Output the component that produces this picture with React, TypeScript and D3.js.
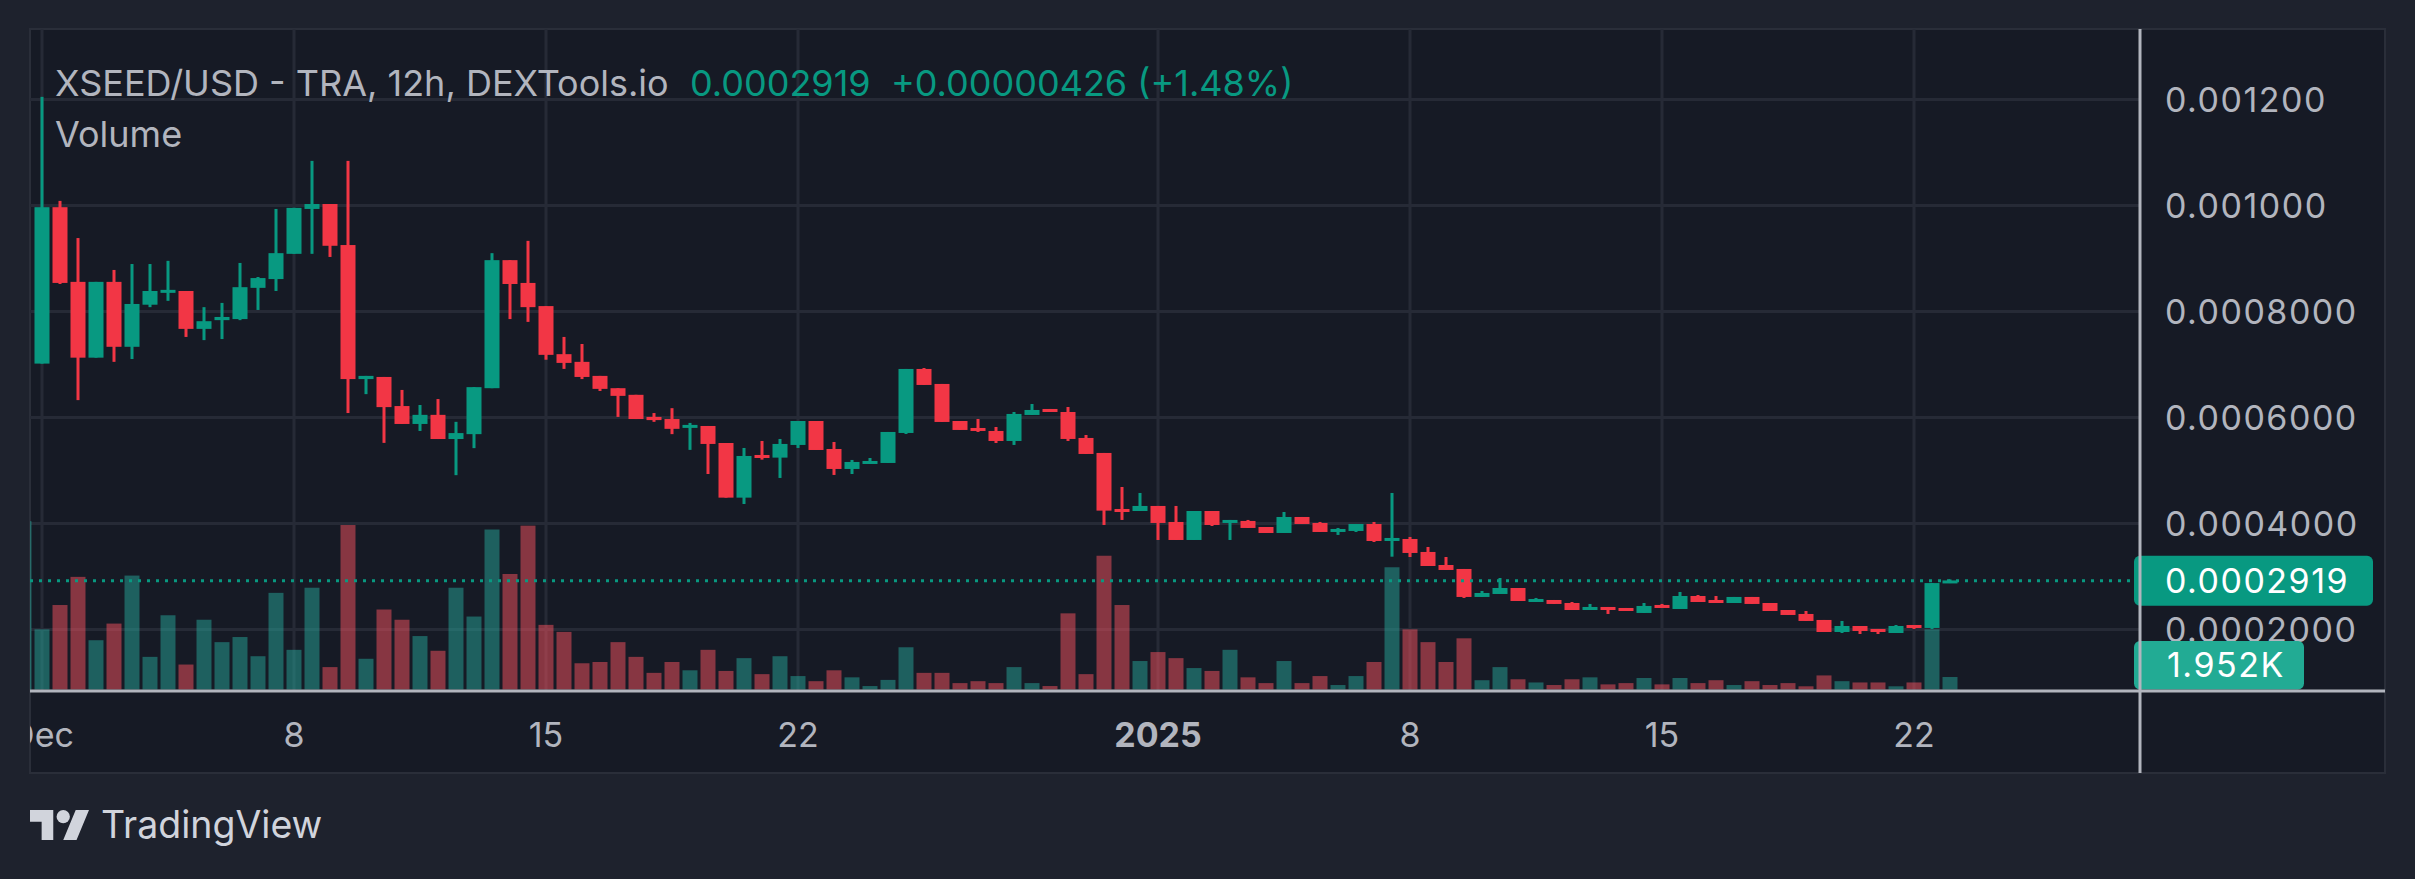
import React from 'react';
import * as d3 from 'd3';

const W = 2415;
const H = 879;

// Prices are in units of 1e-6 USD; volumes in thousands.
const PRICE_UNIT = 1e-6;
const firstCandleIndex = -1; // 12h candles counted from Dec 1 2024 00:00 UTC
const opens: (number | null)[] = [null,
  701.7, 996.8, 855.9, 712.9, 855.9, 733.4, 812.8, 835.4, 838.7, 767.2,
  783.7, 785.7, 844.6, 861.2, 908.8, 993.5, 1002.8, 925.4, 672.5, 676.5,
  621.6, 587.8, 605.0, 559.4, 568.6, 655.3, 896.9, 853.9, 810.2, 719.5,
  705.0, 678.5, 655.3, 642.8, 601.1, 597.1, 580.6, 584.0, 551.9, 448.8,
  529.3, 524.3, 548.2, 593.4, 540.6, 502.9, 512.3, 514.2, 570.8, 691.6,
  663.3, 593.4, 580.2, 574.6, 555.7, 604.8, 616.1, 610.4, 561.4, 533.1,
  427.4, 423.6, 433.1, 402.9, 368.9, 423.6, 401.0, 404.8, 393.4, 382.1,
  412.3, 401.0, 384.0, 385.9, 399.1, 367.0, 370.8, 346.3, 321.7, 314.2,
  261.4, 267.0, 278.3, 251.9, 255.7, 250.0, 236.8, 242.5, 240.6, 231.2,
  246.3, 238.7, 263.2, 255.7, 250.0, 261.4, 250.0, 236.8, 229.3, 218.0,
  195.3, 206.6, 201.0, 193.4, 208.5, 202.9, 287.6];
const highs: (number | null)[] = [null,
  1205.0, 1008.7, 938.6, 855.9, 878.4, 889.6, 889.6, 895.6, 838.7, 808.2,
  816.2, 891.6, 865.1, 993.5, 995.5, 1084.2, 1002.8, 1084.2, 678.5, 676.5,
  652.0, 623.6, 634.8, 591.8, 657.3, 910.1, 896.9, 933.3, 810.2, 752.0,
  738.7, 678.5, 655.3, 642.8, 608.4, 617.6, 589.8, 584.0, 551.9, 542.5,
  555.7, 559.5, 593.4, 593.4, 553.8, 519.9, 523.6, 572.7, 691.6, 693.4,
  663.3, 593.4, 597.2, 582.1, 610.4, 625.5, 616.1, 619.8, 567.0, 533.1,
  468.9, 457.6, 433.1, 433.1, 423.6, 423.6, 406.7, 406.7, 393.4, 421.7,
  412.3, 402.9, 391.6, 399.1, 402.9, 457.6, 374.6, 355.7, 336.8, 314.2,
  272.7, 297.2, 278.3, 259.5, 255.7, 251.9, 248.2, 242.5, 240.6, 250.0,
  248.2, 270.8, 265.1, 263.2, 261.4, 261.4, 250.0, 236.8, 234.9, 218.0,
  216.1, 206.6, 201.0, 208.5, 208.5, 287.8, 294.5];
const lows: (number | null)[] = [null,
  701.7, 851.9, 632.8, 712.9, 705.0, 710.3, 808.2, 820.1, 752.0, 746.0,
  748.0, 783.7, 802.9, 838.7, 908.8, 908.8, 902.9, 608.4, 644.1, 552.1,
  587.8, 574.6, 559.4, 491.2, 542.2, 655.3, 785.7, 780.4, 709.0, 691.7,
  672.5, 650.0, 601.1, 597.1, 591.8, 568.6, 538.9, 493.4, 448.8, 436.8,
  520.5, 485.9, 542.5, 538.7, 491.6, 493.4, 512.3, 514.2, 568.9, 661.4,
  591.6, 576.5, 572.7, 551.9, 548.2, 604.8, 610.4, 555.7, 531.2, 397.2,
  406.7, 423.6, 368.9, 368.9, 368.9, 395.3, 368.9, 391.6, 382.1, 382.1,
  399.1, 384.0, 378.4, 384.0, 365.1, 337.4, 336.8, 319.8, 312.3, 259.5,
  261.4, 267.0, 253.8, 251.9, 248.2, 236.8, 236.8, 229.3, 234.9, 231.2,
  240.6, 238.7, 251.9, 250.0, 250.0, 248.2, 234.9, 227.4, 216.1, 195.3,
  193.4, 191.5, 191.5, 193.4, 201.0, 201.0, 287.6];
const closes: (number | null)[] = [null,
  996.8, 853.9, 712.9, 855.9, 733.4, 814.2, 838.7, 840.6, 767.2, 781.7,
  789.7, 845.9, 863.1, 910.1, 995.5, 1002.8, 924.0, 672.5, 678.5, 619.6,
  587.8, 605.0, 559.4, 570.6, 657.3, 896.9, 851.9, 808.2, 718.2, 703.0,
  676.5, 654.0, 640.8, 597.1, 595.1, 578.6, 585.8, 550.1, 448.8, 527.4,
  523.6, 550.1, 593.4, 538.7, 502.9, 516.1, 518.0, 572.7, 691.6, 661.4,
  591.6, 576.5, 574.6, 555.7, 606.7, 614.2, 610.4, 559.5, 531.2, 424.3,
  421.7, 433.1, 401.0, 368.9, 423.6, 397.2, 406.7, 391.6, 382.1, 412.3,
  399.1, 384.0, 389.7, 399.1, 367.0, 372.7, 344.4, 319.8, 312.3, 261.4,
  268.9, 278.3, 253.8, 257.6, 248.2, 236.8, 242.5, 236.8, 234.9, 244.4,
  240.6, 263.2, 251.9, 250.0, 261.4, 248.2, 234.9, 227.4, 216.1, 195.3,
  206.6, 197.2, 195.3, 206.6, 202.9, 287.6, 291.9];
const volumesK: number[] = [26.3,
  9.4, 13.2, 17.6, 7.7, 10.3, 17.8, 5.1, 11.6, 3.9, 10.9,
  7.4, 8.2, 5.2, 15.1, 6.2, 15.9, 3.5, 25.7, 4.8, 12.5,
  10.9, 8.35, 6.05, 15.9, 11.4, 25.0, 18.05, 25.6, 10.1, 9.0,
  4.1, 4.3, 7.4, 5.1, 2.6, 4.3, 3.0, 6.2, 2.9, 4.9,
  2.4, 5.2, 2.1, 1.3, 3.0, 1.9, 0.54, 1.5, 6.6, 2.6,
  2.6, 1.0, 1.3, 1.0, 3.5, 1.0, 0.54, 11.9, 2.4, 20.9,
  13.2, 4.45, 5.85, 4.9, 3.35, 2.9, 6.2, 1.9, 1.0, 4.45,
  1.0, 2.1, 0.7, 2.1, 4.3, 19.1, 9.4, 7.4, 4.3, 8.0,
  1.45, 3.5, 1.6, 1.1, 0.7, 1.6, 1.9, 0.8, 1.0, 1.8,
  0.8, 1.8, 1.0, 1.45, 0.7, 1.3, 0.7, 1.0, 0.5, 2.2,
  1.3, 1.1, 1.1, 0.5, 1.1, 9.4, 1.952];
const volumeUp: boolean[] = volumesK.map((_, k) =>
  k === 0 ? true : (closes[k] as number) >= (opens[k] as number));

const priceTicks = [0.0012, 0.001, 0.0008, 0.0006, 0.0004, 0.0002];
const priceTickLabels = ['0.001200', '0.001000', '0.0008000', '0.0006000', '0.0004000', '0.0002000'];
const timeTicks = [
  Date.UTC(2024, 11, 1), Date.UTC(2024, 11, 8), Date.UTC(2024, 11, 15), Date.UTC(2024, 11, 22),
  Date.UTC(2025, 0, 1), Date.UTC(2025, 0, 8), Date.UTC(2025, 0, 15), Date.UTC(2025, 0, 22)];
const timeTickLabels = ['Dec', '8', '15', '22', '2025', '8', '15', '22'];
const timeTickBold = [false, false, false, false, true, false, false, false];

const lastPrice = 0.0002919;
const lastPriceLabel = '0.0002919';
const lastVolumeLabel = '1.952K';
const titleMain = 'XSEED/USD - TRA, 12h, DEXTools.io';
const titlePrice = '0.0002919';
const titleChange = '+0.00000426 (+1.48%)';

const UP = '#089981';
const DOWN = '#f23645';
const UP_VOL = '#26a69a';
const DOWN_VOL = '#f7525f';
const TEXT = '#b2b5be';
const GRID = '#262a36';
const FONT = 'Inter, Roboto, sans-serif';

const PANE = { left: 30, right: 2385, top: 29, bottom: 773 };
const AXIS_X = 2140;
const SEP_Y = 691;

export default function App() {
  const HALF_DAY = 12 * 3600 * 1000;
  const t0 = Date.UTC(2024, 11, 1);
  const x = d3.scaleUtc().domain([new Date(t0), new Date(Date.UTC(2025, 0, 22))]).range([42, 1914]);
  const yP = d3.scaleLinear().domain([0, 0.0012]).range([735.5, 99.5]);
  const yV = d3.scaleLinear().domain([0, 27]).range([689.5, 689.5 - 27 * 6.4]);

  const candles = volumesK.map((v, k) => {
    const i = firstCandleIndex + k;
    const t = new Date(t0 + i * HALF_DAY);
    return { t, o: opens[k], h: highs[k], l: lows[k], c: closes[k], v, up: volumeUp[k] };
  });

  const bodyW = 15;
  const wickW = 3;

  const logoPath = 'M14 22H7V11H0V4h14v18zM28 22h-8l7.5-18h8L28 22z';

  return (
    <svg width={W} height={H} style={{ position: 'absolute', left: 0, top: 0, display: 'block' }}
      fontFamily={FONT}>
      <defs>
        <clipPath id="plot">
          <rect x={PANE.left} y={PANE.top} width={AXIS_X - PANE.left} height={SEP_Y - PANE.top} />
        </clipPath>
        <clipPath id="timeaxis">
          <rect x={PANE.left} y={SEP_Y} width={AXIS_X - PANE.left} height={PANE.bottom - SEP_Y} />
        </clipPath>
      </defs>
      <rect x={0} y={0} width={W} height={H} fill="#1e222d" />
      <rect x={PANE.left} y={PANE.top} width={PANE.right - PANE.left} height={PANE.bottom - PANE.top}
        fill="#161a25" stroke="#2a2e39" strokeWidth={2} />

      <g clipPath="url(#plot)">
        {priceTicks.map((p, k) => (
          <rect key={'hg' + k} x={PANE.left} y={yP(p) - 1.5} width={AXIS_X - PANE.left} height={3} fill={GRID} />
        ))}
        {timeTicks.map((t, k) => (
          <rect key={'vg' + k} x={x(new Date(t)) - 1.5} y={PANE.top} width={3} height={SEP_Y - PANE.top} fill={GRID} />
        ))}
        {candles.map((d, k) => {
          const cx = x(d.t);
          const y0 = yV(0);
          const y1 = yV(d.v);
          return (
            <rect key={'v' + k} x={cx - bodyW / 2} y={y1} width={bodyW} height={y0 - y1}
              fill={d.up ? UP_VOL : DOWN_VOL} fillOpacity={0.5} />
          );
        })}
        {candles.map((d, k) => {
          if (d.o == null || d.c == null || d.h == null || d.l == null) return null;
          const cx = x(d.t);
          const up = d.c >= d.o;
          const col = up ? UP : DOWN;
          const top = yP(Math.max(d.o, d.c) * PRICE_UNIT);
          const bot = yP(Math.min(d.o, d.c) * PRICE_UNIT);
          const bh = Math.max(3, bot - top);
          const by = bot - top < 3 ? (top + bot) / 2 - 1.5 : top;
          const hy = yP(d.h * PRICE_UNIT);
          const ly = yP(d.l * PRICE_UNIT);
          return (
            <g key={'c' + k}>
              <rect x={cx - wickW / 2} y={hy} width={wickW} height={Math.max(0, ly - hy)} fill={col} />
              <rect x={cx - bodyW / 2} y={by} width={bodyW} height={bh} fill={col} />
            </g>
          );
        })}
        <line x1={PANE.left} x2={AXIS_X} y1={yP(lastPrice)} y2={yP(lastPrice)}
          stroke={UP} strokeWidth={3} strokeDasharray="3 6" />
      </g>

      {/* legend */}
      <text x={55} y={96} fontSize={36} fill={TEXT}>{titleMain}</text>
      <text x={690} y={96} fontSize={36} fill={UP}>{titlePrice}</text>
      <text x={891} y={96} fontSize={36} fill={UP}>{titleChange}</text>
      <text x={55} y={147} fontSize={36} fill={TEXT}>Volume</text>

      {/* price axis */}
      {priceTicks.map((p, k) => (
        <text key={'pl' + k} x={2165} y={yP(p) + 12} fontSize={34} fill={TEXT} letterSpacing={1.5}>
          {priceTickLabels[k]}
        </text>
      ))}
      <rect x={2134} y={yP(lastPrice) - 25} width={2373 - 2134} height={50} rx={6} fill={UP} />
      <text x={2165} y={yP(lastPrice) + 12} fontSize={34} fill="#ffffff" letterSpacing={1.5}>{lastPriceLabel}</text>
      <rect x={2134} y={641} width={2304 - 2134} height={48.5} rx={6} fill="#22ab94" />
      <text x={2167} y={665 + 12} fontSize={34} fill="#ffffff" letterSpacing={1.5}>{lastVolumeLabel}</text>

      {/* time axis */}
      <g clipPath="url(#timeaxis)">
        {timeTicks.map((t, k) => (
          <text key={'tl' + k} x={x(new Date(t))} y={747} fontSize={34} textAnchor="middle"
            fill={TEXT} fontWeight={timeTickBold[k] ? 700 : 400}>
            {timeTickLabels[k]}
          </text>
        ))}
      </g>

      {/* separators */}
      <rect x={PANE.left} y={SEP_Y - 1.5} width={PANE.right - PANE.left} height={3} fill="#b2b5be" />
      <rect x={AXIS_X - 1.5} y={PANE.top} width={3} height={PANE.bottom - PANE.top} fill="#b2b5be" />

      {/* logo */}
      <g transform={`translate(30, ${810 - 4 * 1.662}) scale(1.662)`} fill="#d1d4dc">
        <path d={logoPath} />
        <circle cx={20} cy={8} r={4} />
      </g>
      <text x={101} y={838} fontSize={37.5} fill="#d1d4dc">TradingView</text>
    </svg>
  );
}
